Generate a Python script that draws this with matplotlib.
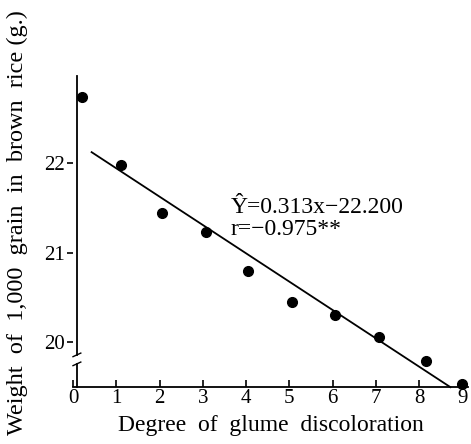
import matplotlib
matplotlib.use('Agg')
import matplotlib.pyplot as plt
import numpy as np

# degree of glume discoloration vs 1,000 grain weight (g)
degree = [0.2, 1.1, 2.06, 3.07, 4.05, 5.06, 6.06, 7.07, 8.15, 8.99]
weight = [22.74, 21.98, 21.44, 21.23, 20.79, 20.45, 20.30, 20.06, 19.79, 19.54]

# regression line end points
line_x = [0.43, 8.72]
line_y = [22.12, 19.50]

x_ticks = [0, 1, 2, 3, 4, 5, 6, 7, 8, 9]
y_ticks = [20, 21, 22]

plt.rcParams['font.family'] = ['Liberation Serif', 'DejaVu Serif']

fig = plt.figure(figsize=(4.71, 4.44), dpi=100)
ax = fig.add_axes([0.155, 0.128, 0.839, 0.701])

ax.plot(degree, weight, 'o', color='black', markersize=7, clip_on=False)
ax.plot(line_x, line_y, color='black', linewidth=1.3, clip_on=False)

ax.set_xlim(0.09, 9.13)
ax.set_ylim(19.5, 22.97)
ax.set_xticks(x_ticks)
ax.set_yticks(y_ticks)

for s in ['top', 'right', 'left']:
    ax.spines[s].set_visible(False)
ax.spines['bottom'].set_linewidth(1.3)

# y axis drawn by hand so it can carry the break marks
ax.plot([0.09, 0.09], [19.86, 22.97], color='black', lw=1.3, clip_on=False)
ax.plot([0.09, 0.09], [19.5, 19.76], color='black', lw=1.3, clip_on=False)
ax.plot([0.0, 0.18], [19.84, 19.88], color='black', lw=1.0, clip_on=False)
ax.plot([0.0, 0.18], [19.74, 19.78], color='black', lw=1.0, clip_on=False)

ax.tick_params(axis='x', direction='in', length=5, width=1.2, labelsize=15, pad=1)
ax.tick_params(axis='y', direction='out', length=4, width=1.2, labelsize=15, pad=2)

ax.set_xlabel('Degree  of  glume  discoloration', fontsize=17)
ax.xaxis.set_label_coords(0.5, -0.088)
ax.set_ylabel('Weight  of  1,000  grain  in  brown  rice (g.)', fontsize=17.5)
ax.yaxis.set_label_coords(-0.114, 0.53)

ax.text(3.64, 21.44, 'Ŷ=0.313x\u221222.200', fontsize=17, va='baseline')
ax.text(3.64, 21.2, 'r=\u22120.975**', fontsize=17, va='baseline')

fig.savefig('out.png', dpi=100)
